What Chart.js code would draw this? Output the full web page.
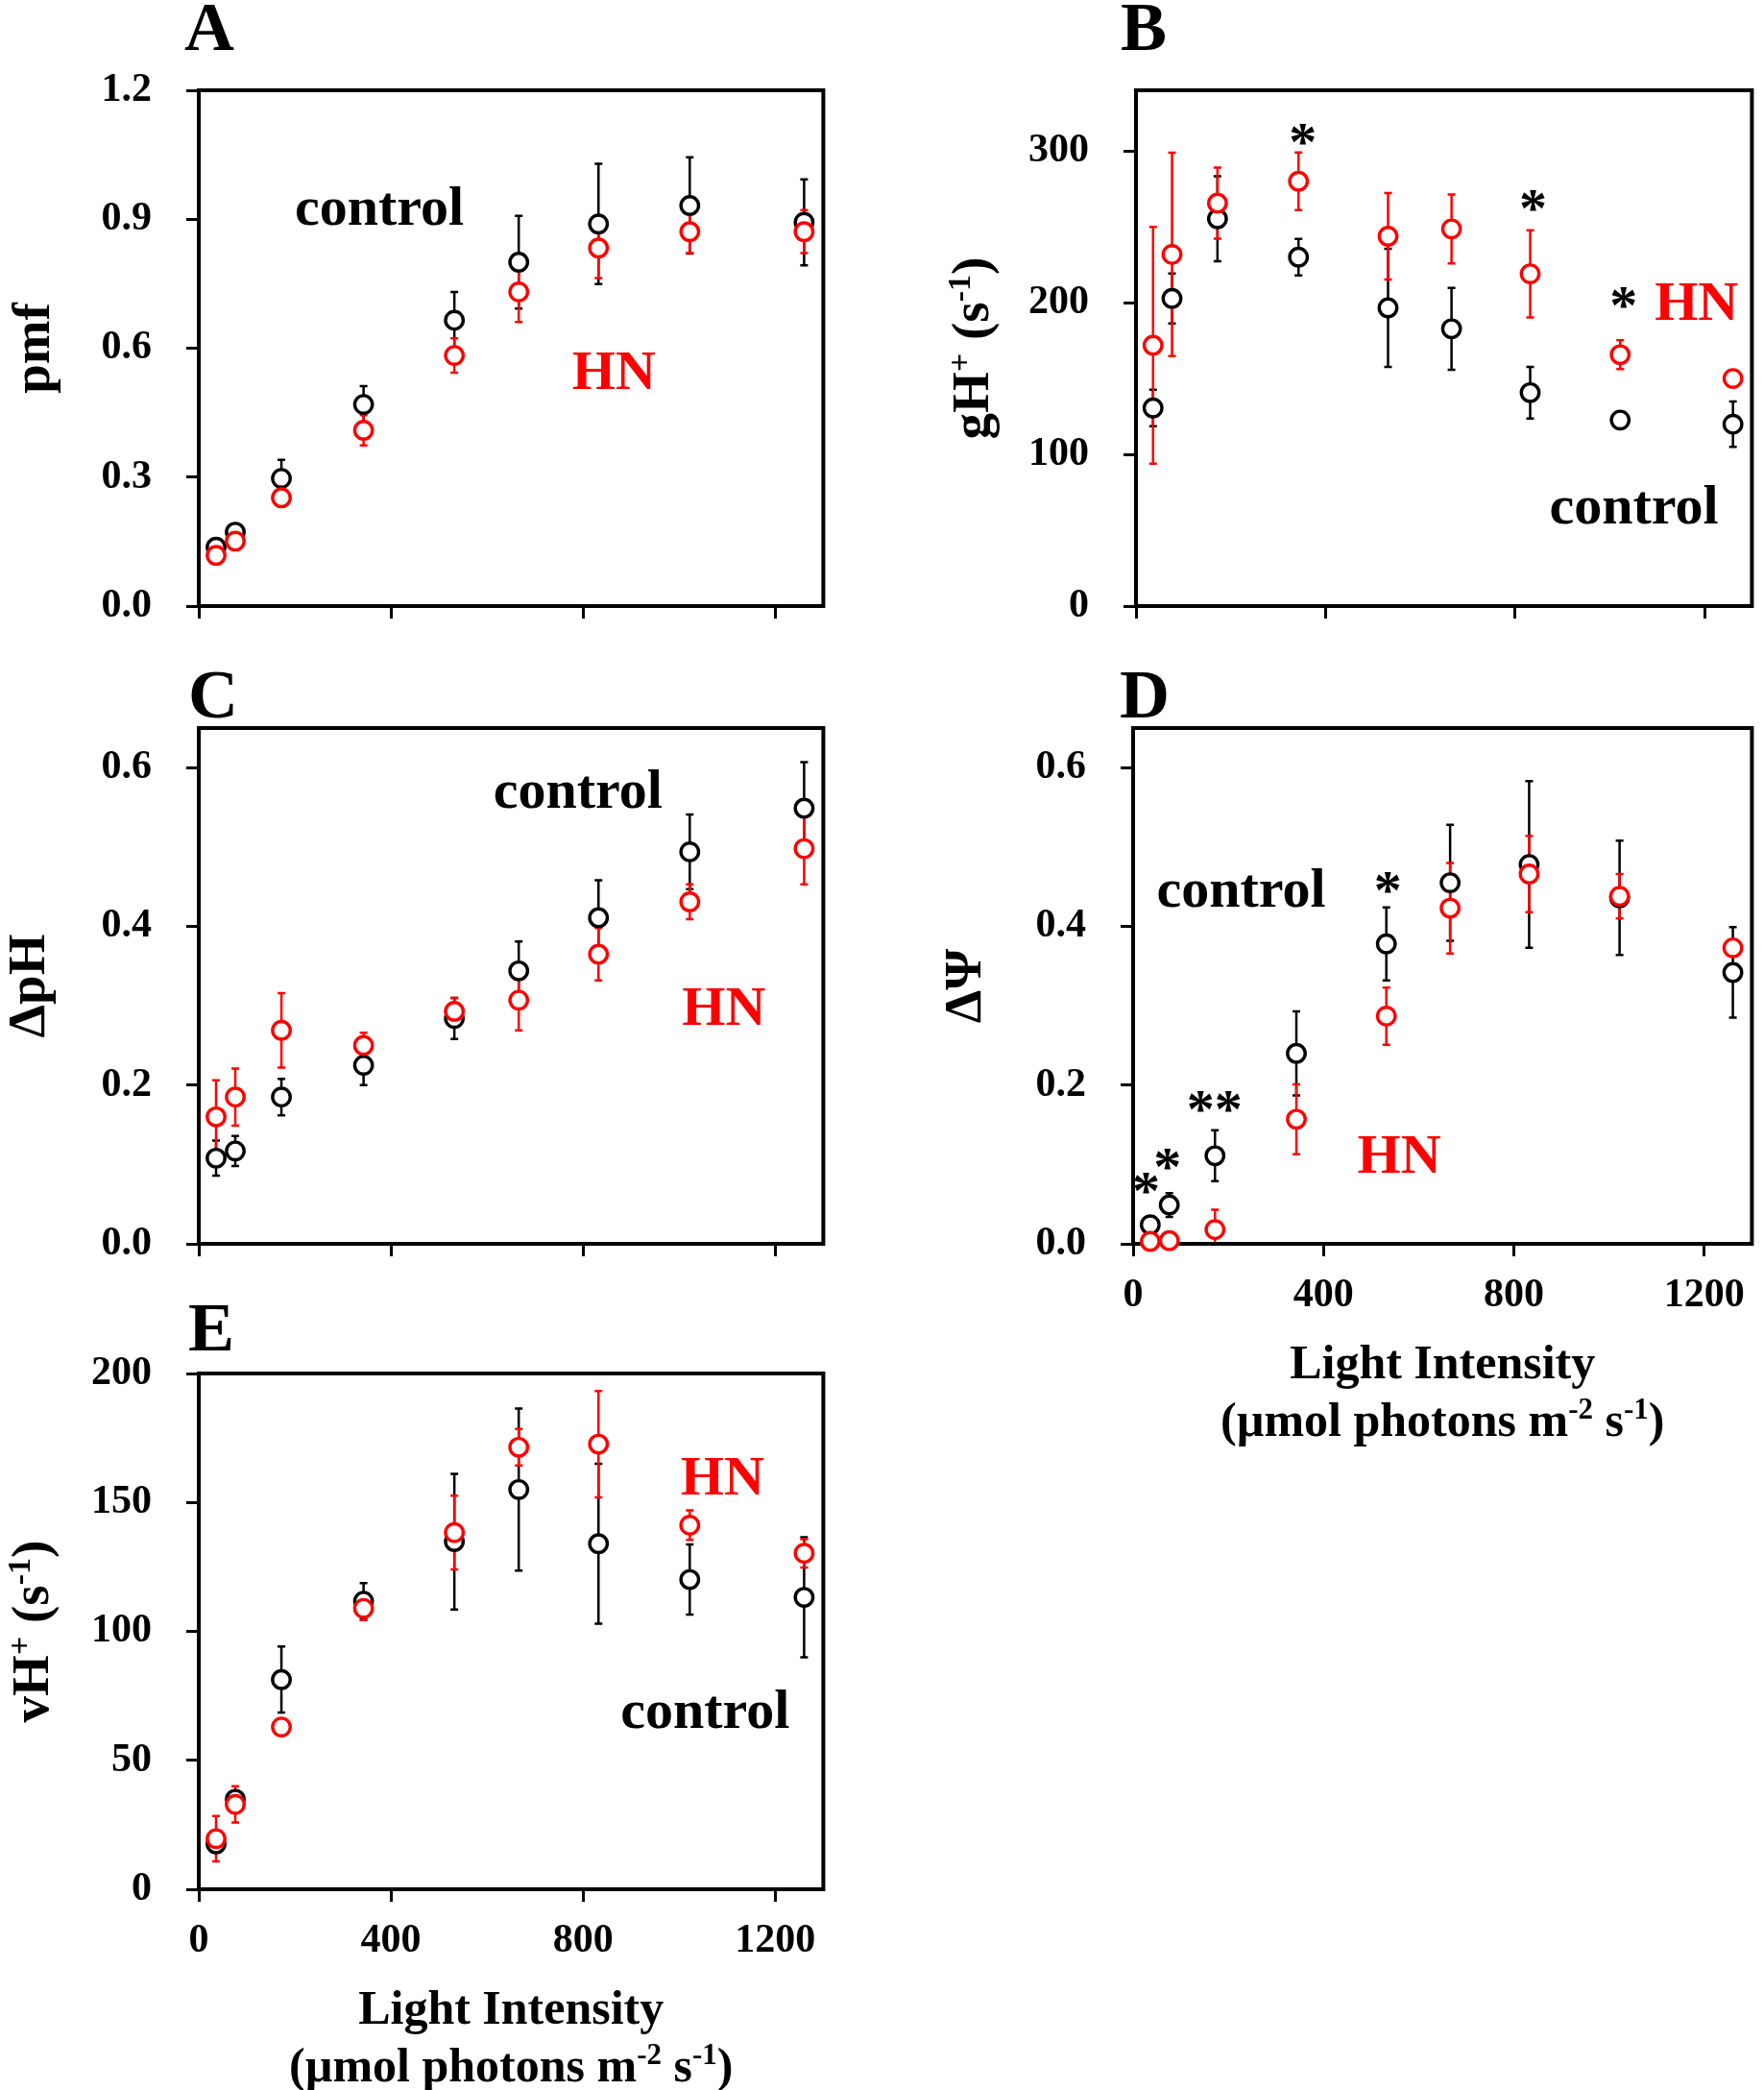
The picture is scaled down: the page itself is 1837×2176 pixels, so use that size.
<!DOCTYPE html>
<html><head><meta charset="utf-8">
<script src="https://cdn.jsdelivr.net/npm/chart.js@4.4.0/dist/chart.umd.min.js"></script>
<style>
html,body{margin:0;padding:0;background:#fff;}
body{width:1837px;height:2176px;position:relative;overflow:hidden;}
canvas{position:absolute;}
</style></head><body>
<script>
// ---------- DATA ----------
const lightIntensity = [36, 76, 172, 343, 532, 666, 832, 1022, 1260];
const xTicks = [0, 400, 800, 1200];

// A: pmf
const pmfControl    = [0.137, 0.172, 0.297, 0.469, 0.665, 0.800, 0.889, 0.932, 0.893];
const pmfControlErr = [0.010, 0.010, 0.043, 0.043, 0.066, 0.108, 0.140, 0.112, 0.100];
const pmfHN         = [0.118, 0.151, 0.252, 0.409, 0.583, 0.731, 0.833, 0.871, 0.871];
const pmfHNErr      = [0.008, 0.010, 0.020, 0.035, 0.040, 0.070, 0.070, 0.050, 0.050];

// B: gH+
const gHControl    = [130.6, 202.8, 255.3, 230.0, 196.6, 182.8, 140.7, 122.6, 119.9];
const gHControlErr = [12, 16.5, 28, 12, 39, 27, 17, 3, 15];
const gHHN         = [171.9, 231.8, 265.6, 280.0, 243.8, 248.6, 219.0, 165.7, 150.0];
const gHHNErr      = [78, 67, 23.5, 19, 28.5, 22.7, 28.7, 9.5, 3];

// C: dpH
const dpHControl    = [0.108, 0.117, 0.185, 0.225, 0.284, 0.344, 0.411, 0.494, 0.549];
const dpHControlErr = [0.022, 0.019, 0.023, 0.025, 0.026, 0.037, 0.047, 0.047, 0.058];
const dpHHN         = [0.160, 0.185, 0.269, 0.250, 0.293, 0.307, 0.365, 0.431, 0.498];
const dpHHNErr      = [0.046, 0.036, 0.047, 0.016, 0.017, 0.038, 0.033, 0.022, 0.045];

// D: dPsi
const dPsiControl    = [0.024, 0.049, 0.111, 0.240, 0.378, 0.455, 0.478, 0.436, 0.342];
const dPsiControlErr = [0.005, 0.015, 0.032, 0.053, 0.046, 0.073, 0.105, 0.072, 0.057];
const dPsiHN         = [0.003, 0.004, 0.018, 0.157, 0.287, 0.423, 0.466, 0.438, 0.373];
const dPsiHNErr      = [0.002, 0.002, 0.025, 0.044, 0.036, 0.057, 0.048, 0.028, 0.005];

// E: vH+
const vHControl    = [17.6, 34.9, 81.3, 111.7, 134.8, 155.0, 134.0, 120.1, 113.2];
const vHControlErr = [3, 3, 12.8, 7, 26.3, 31.4, 31, 13.6, 23.3];
const vHHN         = [19.6, 32.9, 62.9, 108.9, 138.3, 171.4, 172.6, 141.2, 130.3];
const vHHNErr      = [8.8, 7, 1, 4.5, 14.3, 7.1, 20.6, 5.7, 5.5];

// ---------- STYLE ----------
const FAM = '"Liberation Serif", "Times New Roman", serif';
const RED = '#ff0000';
const BLACK = '#000000';

function fontStr(size){ return 'bold ' + size + 'px ' + FAM; }

function drawRich(ctx, parts, x, y, size, align){
  const supSize = Math.round(size*0.62);
  let w = 0;
  for (const [t, s] of parts){ ctx.font = fontStr(s ? supSize : size); w += ctx.measureText(t).width; }
  let cx = align === 'center' ? x - w/2 : (align === 'right' ? x - w : x);
  ctx.textAlign = 'left'; ctx.textBaseline = 'alphabetic';
  for (const [t, s] of parts){
    ctx.font = fontStr(s ? supSize : size);
    ctx.fillText(t, cx, s ? y - size*0.36 : y);
    cx += ctx.measureText(t).width;
  }
}

const decor = {
  id: 'decor',
  beforeDatasetsDraw(chart){
    const {ctx, chartArea:a, scales:{x, y}} = chart;
    // error bars
    ctx.save();
    ctx.beginPath(); ctx.rect(a.left, a.top, a.right-a.left, a.bottom-a.top); ctx.clip();
    chart.data.datasets.slice().reverse().forEach(ds => {
      ctx.strokeStyle = ds.borderColor; ctx.lineWidth = 2.5;
      ds.data.forEach((p, i) => {
        const e = ds.errors[i];
        const px = x.getPixelForValue(p.x);
        const y1 = y.getPixelForValue(p.y - e), y2 = y.getPixelForValue(p.y + e);
        ctx.beginPath();
        ctx.moveTo(px, y1); ctx.lineTo(px, y2);
        ctx.moveTo(px-4, y1); ctx.lineTo(px+4, y1);
        ctx.moveTo(px-4, y2); ctx.lineTo(px+4, y2);
        ctx.stroke();
      });
    });
    ctx.restore();
    // frame
    ctx.save();
    ctx.strokeStyle = '#000'; ctx.lineWidth = 4; ctx.lineJoin = 'miter';
    ctx.strokeRect(a.left, a.top, a.right-a.left, a.bottom-a.top);
    ctx.restore();
  },
  afterDraw(chart){
    const P = chart.options.plugins.decor;
    const {ctx, chartArea:a, scales:{x, y}} = chart;
    ctx.save();
    ctx.fillStyle = '#000';
    // panel letter
    ctx.font = fontStr(72); ctx.textAlign = 'left'; ctx.textBaseline = 'alphabetic';
    ctx.fillText(P.letter, P.letterPos[0] - P.off[0], P.letterPos[1] - P.off[1]);
    // annotations
    P.notes.forEach(n => {
      ctx.fillStyle = n.color;
      ctx.font = fontStr(n.size || 58);
      ctx.textAlign = 'center'; ctx.textBaseline = 'alphabetic';
      ctx.fillText(n.text, x.getPixelForValue(n.x), y.getPixelForValue(n.y));
    });
    // y title (rotated)
    ctx.fillStyle = '#000';
    ctx.save();
    const cy = (a.top + a.bottom)/2;
    ctx.translate(P.yTitleX - P.off[0] + 55*P.yTitleK, cy);
    ctx.rotate(-Math.PI/2);
    drawRich(ctx, P.yTitle, 0, 0, 55, 'center');
    ctx.restore();
    // x title
    if (P.xTitle){
      const cx = (a.left + a.right)/2;
      drawRich(ctx, [['Light Intensity', false]], cx, a.bottom + 140, 50, 'center');
      drawRich(ctx, [['(\u00b5mol photons m', false], ['-2', true], [' s', false], ['-1', true], [')', false]], cx, a.bottom + 200, 50, 'center');
    }
    ctx.restore();
  }
};

function makePanel(cfg){
  const cv = document.createElement('canvas');
  cv.width = cfg.w; cv.height = cfg.h;
  cv.style.left = cfg.left + 'px'; cv.style.top = cfg.top + 'px';
  cv.style.width = cfg.w + 'px'; cv.style.height = cfg.h + 'px';
  document.body.appendChild(cv);
  const pts = arr => lightIntensity.map((v, i) => ({x: v, y: arr[i]}));
  new Chart(cv.getContext('2d'), {
    type: 'scatter',
    data: {
      datasets: [
        {label: 'HN', data: pts(cfg.hn), errors: cfg.hnErr, borderColor: RED, backgroundColor: '#fff',
         pointRadius: 9.2, pointBorderWidth: 3.4, pointHoverRadius: 9.2, clip: false},
        {label: 'control', data: pts(cfg.ctrl), errors: cfg.ctrlErr, borderColor: BLACK, backgroundColor: '#fff',
         pointRadius: 9.2, pointBorderWidth: 3.4, pointHoverRadius: 9.2, clip: false}
      ]
    },
    options: {
      responsive: false, animation: false, devicePixelRatio: 1,
      layout: {padding: {left: 0, top: cfg.pt, right: cfg.pr, bottom: 0}},
      plugins: {
        legend: {display: false}, tooltip: {enabled: false},
        decor: {letter: cfg.letter, letterPos: cfg.letterPos, off: [cfg.left, cfg.top], notes: cfg.notes,
                yTitle: cfg.yTitle, yTitleX: cfg.yTitleX, yTitleK: cfg.yTitleK, xTitle: cfg.xLabels}
      },
      scales: {
        x: {
          type: 'linear', min: 0, max: 1300,
          afterBuildTicks: s => { s.ticks = xTicks.map(v => ({value: v})); },
          border: {display: false},
          grid: {display: true, drawOnChartArea: false, drawTicks: true, tickLength: 13, tickWidth: 3, tickColor: '#000', color: '#000', lineWidth: 3},
          ticks: {display: cfg.xLabels, color: '#000', font: {family: FAM, size: 42, weight: 'bold'}, padding: 16, maxRotation: 0, autoSkip: false,
                  callback: v => String(v)},
          afterFit: s => { s.height = cfg.xh; }
        },
        y: {
          type: 'linear', min: 0, max: cfg.ymax,
          afterBuildTicks: s => { s.ticks = cfg.yTicks.map(v => ({value: v})); },
          border: {display: false},
          grid: {display: true, drawOnChartArea: false, drawTicks: true, tickLength: 13, tickWidth: 3, tickColor: '#000', color: '#000', lineWidth: 3},
          ticks: {color: '#000', font: {family: FAM, size: 42, weight: 'bold'}, padding: 36, autoSkip: false,
                  callback: v => cfg.dec ? Number(v).toFixed(cfg.dec) : String(v)},
          afterFit: s => { s.width = cfg.yw; }
        }
      }
    },
    plugins: [decor]
  });
}

makePanel({letter: 'A', letterPos: [192, 52], left: 0, top: 0, w: 870, h: 700, pt: 94, pr: 8, yw: 207, xh: 69,
  ctrl: pmfControl, ctrlErr: pmfControlErr, hn: pmfHN, hnErr: pmfHNErr,
  ymax: 1.2, yTicks: [0, 0.3, 0.6, 0.9, 1.2], dec: 1, xLabels: false,
  yTitle: [['pmf', false]], yTitleX: 38, yTitleK: 0.24,
  notes: [{text: 'control', x: 376, y: 0.887, color: BLACK}, {text: 'HN', x: 864, y: 0.505, color: RED}]});

makePanel({letter: 'B', letterPos: [1167, 52], left: 960, top: 0, w: 877, h: 700, pt: 94, pr: 4, yw: 223, xh: 69,
  ctrl: gHControl, ctrlErr: gHControlErr, hn: gHHN, hnErr: gHHNErr,
  ymax: 340, yTicks: [0, 100, 200, 300], dec: 0, xLabels: false,
  yTitle: [['gH', false], ['+', true], [' (s', false], ['-1', true], [')', false]], yTitleX: 1015, yTitleK: 0.26,
  notes: [{text: 'control', x: 1051, y: 54.6, color: BLACK}, {text: 'HN', x: 1183, y: 188.6, color: RED},
          {text: '*', x: 352, y: 294, color: BLACK}, {text: '*', x: 838, y: 250, color: BLACK}, {text: '*', x: 1029, y: 186, color: BLACK}]});

makePanel({letter: 'C', letterPos: [196, 747], left: 0, top: 688, w: 870, h: 676, pt: 70, pr: 8, yw: 207, xh: 69,
  ctrl: dpHControl, ctrlErr: dpHControlErr, hn: dpHHN, hnErr: dpHHNErr,
  ymax: 0.65, yTicks: [0, 0.2, 0.4, 0.6], dec: 1, xLabels: false,
  yTitle: [['\u0394pH', false]], yTitleX: 33, yTitleK: 0.24,
  notes: [{text: 'control', x: 789, y: 0.549, color: BLACK}, {text: 'HN', x: 1093, y: 0.276, color: RED}]});

makePanel({letter: 'D', letterPos: [1166, 747], left: 960, top: 688, w: 877, h: 847, pt: 70, pr: 5, yw: 220, xh: 240,
  ctrl: dPsiControl, ctrlErr: dPsiControlErr, hn: dPsiHN, hnErr: dPsiHNErr,
  ymax: 0.65, yTicks: [0, 0.2, 0.4, 0.6], dec: 1, xLabels: true,
  yTitle: [['\u0394\u03a8', false]], yTitleX: 1002, yTitleK: 0.34,
  notes: [{text: 'control', x: 227, y: 0.425, color: BLACK}, {text: 'HN', x: 559, y: 0.089, color: RED},
          {text: '*', x: 27, y: 0.043, color: BLACK}, {text: '*', x: 72, y: 0.074, color: BLACK},
          {text: '**', x: 171, y: 0.146, color: BLACK}, {text: '*', x: 535, y: 0.423, color: BLACK}]});

makePanel({letter: 'E', letterPos: [196, 1406], left: 0, top: 1345, w: 870, h: 831, pt: 85, pr: 8, yw: 207, xh: 209,
  ctrl: vHControl, ctrlErr: vHControlErr, hn: vHHN, hnErr: vHHNErr,
  ymax: 200, yTicks: [0, 50, 100, 150, 200], dec: 0, xLabels: true,
  yTitle: [['vH', false], ['+', true], [' (s', false], ['-1', true], [')', false]], yTitleX: 36, yTitleK: 0.26,
  notes: [{text: 'HN', x: 1090, y: 153, color: RED}, {text: 'control', x: 1054, y: 62.5, color: BLACK}]});
</script>
</body></html>
